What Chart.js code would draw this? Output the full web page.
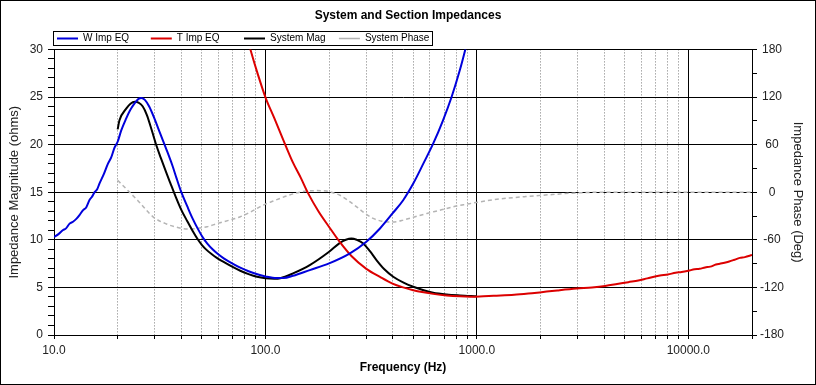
<!DOCTYPE html>
<html>
<head>
<meta charset="utf-8">
<title>System and Section Impedances</title>
<script src="https://cdn.jsdelivr.net/npm/chart.js@4/dist/chart.umd.min.js"></script>
<style>
  html, body { margin: 0; padding: 0; background: #fff; }
  #wrap { width: 816px; height: 385px; }
</style>
</head>
<body>
<div id="wrap"><canvas id="chart" width="816" height="385"></canvas></div>
<script>
// frequency grid (Hz) and labelled decades
const xGridFreqs = [10, 20, 30, 40, 50, 60, 70, 80, 90,
  100, 200, 300, 400, 500, 600, 700, 800, 900,
  1000, 2000, 3000, 4000, 5000, 6000, 7000, 8000, 9000,
  10000, 20000];
const xLabelFreqs = [10, 100, 1000, 10000];

// W Imp EQ (ohms)
const wFreq = [10, 10.5, 11, 11.4, 11.85, 12.3, 12.75, 13.2, 13.7, 14.2, 14.74, 15.1, 15.56, 16, 16.4, 17.2, 18, 18.6, 19.35, 20, 20.8, 21.9, 22.9, 24, 25.1, 25.9, 26.9, 28.2, 29.9, 31.6, 34, 36.3, 38, 40, 42.7, 45.2, 47.9, 50.7, 53.1, 56.2, 59.6, 63.5, 69.2, 76, 83.2, 94, 100, 113, 122, 135, 162, 200, 251, 300, 348, 399, 448, 500, 558, 621, 690, 759, 830, 884, 950];
const wImp = [10.3, 10.6, 11.0, 11.2, 11.7, 11.9, 12.2, 12.6, 13.1, 13.4, 14.2, 14.5, 15.0, 15.3, 15.9, 16.9, 18.0, 18.6, 19.7, 20.3, 21.5, 22.7, 23.6, 24.3, 24.8, 24.9, 24.7, 24.0, 22.7, 21.3, 19.5, 17.8, 16.45, 15.0, 13.5, 12.25, 11.15, 10.2, 9.6, 9.0, 8.5, 8.05, 7.55, 7.07, 6.7, 6.3, 6.15, 5.98, 5.98, 6.22, 6.82, 7.52, 8.57, 9.79, 11.19, 12.77, 14.16, 15.91, 18.0, 20.1, 22.5, 25.0, 27.8, 30.1, 33];

// T Imp EQ (ohms)
const tFreq = [78, 84.9, 92, 100, 110, 124, 135, 147, 159, 178, 200, 225, 255, 300, 348, 399, 448, 500, 560, 621, 720, 832, 930, 1030, 1200, 1500, 1750, 2020, 2400, 2960, 3500, 4040, 4600, 5200, 5800, 6400, 7340, 8000, 8700, 9300, 10000, 10700, 11300, 12000, 12700, 13500, 14200, 15000, 15600, 16500, 17500, 18500, 20000];
const tImp = [33, 30, 27.4, 24.97, 22.8, 20.0, 18.1, 16.5, 14.9, 13.0, 11.35, 9.75, 8.3, 6.95, 6.1, 5.4, 5.0, 4.7, 4.48, 4.32, 4.15, 4.06, 4.03, 4.05, 4.12, 4.22, 4.35, 4.5, 4.68, 4.88, 5.0, 5.15, 5.35, 5.55, 5.72, 5.95, 6.25, 6.35, 6.55, 6.62, 6.75, 6.9, 6.95, 7.1, 7.18, 7.4, 7.5, 7.62, 7.72, 7.9, 8.1, 8.18, 8.4];

// System Mag (ohms)
const sysFreq = [20, 20.4, 22, 23, 24.1, 25.1, 26.3, 27.5, 29, 30.5, 32, 33.9, 35.5, 37.2, 40, 42.7, 45.2, 48, 50.1, 52.5, 55.6, 58.9, 63.1, 69.2, 76, 83.2, 91.2, 100, 110, 117.5, 135, 162, 200, 225, 240, 255, 270, 290, 312, 335, 365, 402, 450, 500, 560, 621, 720, 832, 1000];
const sysMag = [21.6, 22.55, 23.8, 24.3, 24.5, 24.4, 24.0, 23.1, 21.5, 19.9, 18.6, 17.1, 15.95, 14.8, 13.15, 11.95, 10.95, 10.0, 9.45, 8.97, 8.5, 8.1, 7.7, 7.2, 6.75, 6.4, 6.12, 5.97, 5.92, 5.97, 6.47, 7.34, 8.74, 9.68, 10.0, 10.14, 10.0, 9.62, 8.8, 7.87, 6.9, 6.12, 5.5, 5.07, 4.7, 4.44, 4.25, 4.15, 4.06];

// System Phase (deg)
const phFreq = [20, 22, 25, 29.4, 34, 40, 43, 48, 53, 60, 68, 76, 85, 94, 100, 108, 117, 130, 145, 156, 175, 194, 210, 225, 245, 270, 295, 323, 355, 388, 420, 448, 510, 580, 650, 720, 800, 895, 1030, 1200, 1400, 1700, 2000, 2400, 2800, 3300, 4000, 20000];
const phDeg = [15, 4, -11, -31, -40, -45.5, -46.5, -45.5, -43.5, -39, -35, -31, -25, -18.5, -15, -11.5, -7.9, -3.5, 0, 1.5, 2, 1.5, -1, -3.8, -10, -18.5, -26.5, -33, -36.5, -37.5, -37, -35.2, -31, -26.8, -23.5, -20.5, -17.5, -15.1, -12.2, -9.5, -7.5, -5.5, -4, -2.5, -1.2, -0.4, 0, 0];

const FONT = '"Liberation Sans", Arial, sans-serif';
Chart.defaults.font.family = FONT;
Chart.defaults.color = "#000";

function toPoints(xs, ys) {
  return xs.map((x, i) => ({ x, y: ys[i] }));
}

function isSolidX(v) {
  return xLabelFreqs.includes(v) || v === 20000;
}

const frame = {
  id: "frame",
  beforeDraw(chart) {
    const ctx = chart.ctx;
    ctx.save();
    ctx.fillStyle = "#fff";
    ctx.fillRect(0, 0, chart.width, chart.height);
    ctx.restore();
  },
  afterLayout(chart) {
    // legend sits inside its own box, shifted right and a little down
    chart.legend.left += 52;
    chart.legend.top += 4;
    chart.legend.bottom += 4;
  },
  afterDraw(chart) {
    const ctx = chart.ctx;
    const hb = chart.legend.legendHitBoxes;
    ctx.save();
    ctx.strokeStyle = "#000";
    ctx.lineWidth = 1;
    ctx.strokeRect(0.5, 0.5, chart.width - 1, chart.height - 1);
    if (hb && hb.length) {
      const first = hb[0];
      const last = hb[hb.length - 1];
      const l = Math.round(first.left - 4) + 0.5;
      const t = Math.round(first.top - 2) + 0.5;
      const r = Math.round(last.left + last.width + 3) + 0.5;
      const b = Math.round(first.top + first.height + 2) + 0.5;
      ctx.strokeRect(l, t, r - l, b - t);
    }
    ctx.restore();
  }
};

new Chart(document.getElementById("chart"), {
  type: "line",
  data: {
    datasets: [
      {
        label: "W Imp EQ",
        data: toPoints(wFreq, wImp),
        borderColor: "#0000dc",
        backgroundColor: "#0000dc",
        borderWidth: 2,
        yAxisID: "y"
      },
      {
        label: "T Imp EQ",
        data: toPoints(tFreq, tImp),
        borderColor: "#dc0000",
        backgroundColor: "#dc0000",
        borderWidth: 2,
        yAxisID: "y"
      },
      {
        label: "System Mag",
        data: toPoints(sysFreq, sysMag),
        borderColor: "#000000",
        backgroundColor: "#000000",
        borderWidth: 2,
        yAxisID: "y"
      },
      {
        label: "System Phase",
        data: toPoints(phFreq, phDeg),
        borderColor: "#b4b4b4",
        backgroundColor: "#b4b4b4",
        borderWidth: 1.5,
        borderDash: [4, 3],
        yAxisID: "y1"
      }
    ]
  },
  options: {
    responsive: false,
    animation: false,
    devicePixelRatio: 1,
    layout: { padding: 0 },
    elements: {
      point: { radius: 0 },
      line: { cubicInterpolationMode: "monotone" }
    },
    plugins: {
      title: {
        display: true,
        text: "System and Section Impedances",
        color: "#000",
        font: { size: 12, weight: "bold" },
        padding: { top: 8, bottom: 2 }
      },
      legend: {
        position: "top",
        align: "start",
        labels: {
          color: "#000",
          font: { size: 10 },
          boxWidth: 21,
          boxHeight: 0,
          padding: 5,
          generateLabels(chart) {
            const items = Chart.defaults.plugins.legend.labels.generateLabels(chart);
            const ctx = chart.ctx;
            ctx.save();
            ctx.font = "10px " + FONT;
            items.forEach(item => {
              while (ctx.measureText(item.text + " ").width < 65) item.text += " ";
            });
            ctx.restore();
            return items;
          }
        }
      },
      tooltip: { enabled: false }
    },
    scales: {
      x: {
        type: "logarithmic",
        min: 10,
        max: 20000,
        afterBuildTicks(scale) {
          scale.ticks = xGridFreqs.map(v => ({ value: v }));
        },
        afterFit(scale) {
          scale.height = 50;
        },
        ticks: {
          autoSkip: false,
          maxRotation: 0,
          padding: 4,
          color: "#222",
          font: { size: 12 },
          callback: v => (xLabelFreqs.includes(v) ? v.toFixed(1) : "")
        },
        grid: {
          color: c => (c.tick && !isSolidX(c.tick.value) ? "#7a7a7a" : "#000"),
          tickColor: "#000",
          tickLength: 4,
          lineWidth: 1
        },
        border: {
          color: "#000",
          dash: c => (c.tick && !isSolidX(c.tick.value) ? [1, 2] : [])
        },
        title: {
          display: true,
          text: "Frequency (Hz)",
          color: "#000",
          font: { size: 12, weight: "bold" },
          padding: { top: 0, bottom: 10 }
        }
      },
      y: {
        position: "left",
        min: 0,
        max: 30,
        afterFit(scale) {
          scale.width = 54;
        },
        ticks: {
          stepSize: 1,
          autoSkip: false,
          padding: 5,
          color: "#222",
          font: { size: 12 },
          callback: v => (v % 5 === 0 ? String(v) : "")
        },
        grid: {
          color: c => (c.tick && c.tick.value % 5 === 0 ? "#000" : "rgba(0,0,0,0)"),
          tickColor: "#000",
          tickLength: 6
        },
        border: { color: "#000" },
        title: {
          display: true,
          text: "Impedance Magnitude (ohms)",
          color: "#222",
          font: { size: 13 },
          padding: { top: 7, bottom: 0 }
        }
      },
      y1: {
        position: "right",
        min: -180,
        max: 180,
        afterFit(scale) {
          scale.width = 64;
        },
        ticks: {
          stepSize: 30,
          autoSkip: false,
          padding: 3,
          crossAlign: "center",
          color: "#222",
          font: { size: 12 },
          callback: v => (v % 60 === 0 ? String(v) : "")
        },
        grid: {
          drawOnChartArea: false,
          tickColor: "#000",
          tickLength: 5
        },
        border: { color: "#000" },
        title: {
          display: true,
          text: "Impedance Phase (Deg)",
          color: "#222",
          font: { size: 13 },
          padding: { top: 11, bottom: 0 }
        }
      }
    }
  },
  plugins: [frame]
});
</script>
</body>
</html>
